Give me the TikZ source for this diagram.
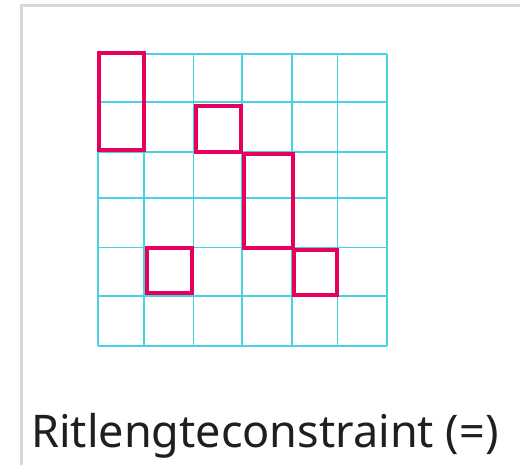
\documentclass[tikz,border=0pt]{standalone}
\usepackage{fontspec}
\setmainfont{Noto Sans}
\definecolor{gridcyan}{RGB}{72,209,222}
\definecolor{rectmag}{RGB}{230,0,92}
\definecolor{framegray}{RGB}{217,217,217}
\tikzset{
  gridline/.style={draw=gridcyan, line width=1.3pt},
  selbox/.style={draw=rectmag, line width=4pt},
  frameline/.style={draw=framegray, line width=2.5pt},
}
\begin{document}
\begin{tikzpicture}[x=1pt,y=-1pt]
\useasboundingbox (0,0) rectangle (520,465);
\fill[white] (0,0) rectangle (520,465);
% frame
\draw[frameline] (21.5,470) -- (21.5,5.3) -- (525,5.3);
% grid
\foreach \x in {98,144,193.5,242,292,337.5,387}
  \draw[gridline] (\x,54) -- (\x,346);
\foreach \y in {54,102,152,198,247.5,296,346}
  \draw[gridline] (98,\y) -- (387,\y);
% rectangles
\draw[selbox] (98.5,53) rectangle (143.5,150.5);
\draw[selbox] (195.7,105.7) rectangle (240.7,152.3);
\draw[selbox] (244,154) rectangle (293,248);
\draw[selbox] (293.5,250) rectangle (337,295.5);
\draw[selbox] (147.3,248.3) rectangle (191.7,293.3);
% label
\node[anchor=base west, inner sep=0pt, text=black!88, font=\fontsize{45}{50}\selectfont] (lbl) at (31,447) {Ritlengteconstraint (=)};
\end{tikzpicture}
\end{document}
